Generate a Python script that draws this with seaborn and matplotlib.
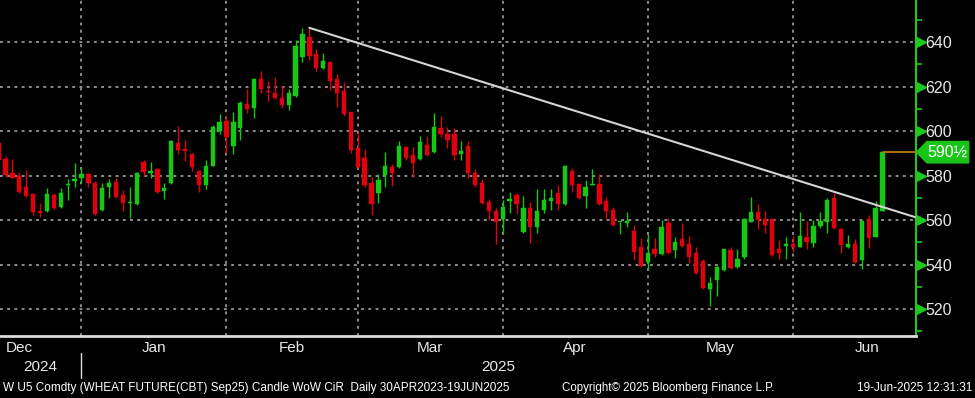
import matplotlib
matplotlib.use("Agg")
import matplotlib.pyplot as plt
import matplotlib.font_manager as fm
from matplotlib.lines import Line2D
from matplotlib.patches import Polygon
import numpy as np
import pandas as pd
import seaborn as sns

# daily candles, W U5 Comdty, mid-Dec 2024 .. 19-Jun-2025
opens = [594.5, 587.3, 581.3, 579.9, 574.7, 571.7, 564.0, 564.0, 571.2, 565.7,
         575.6, 577.7, 579.0, 580.7, 576.8, 564.5, 574.7, 577.2, 571.2, 567.5,
         567.2, 585.9, 581.3, 582.8, 573.0, 576.5, 594.8, 592.1, 589.5, 582.0,
         575.7, 584.4, 600.0, 604.5, 593.4, 601.5, 612.0, 610.5, 623.2, 618.1,
         616.9, 614.9, 611.6, 615.7, 633.1, 642.4, 634.5, 628.2, 631.2, 623.2,
         618.1, 608.4, 592.2, 588.0, 576.8, 572.3, 580.2, 584.0, 584.0, 593.0,
         589.2, 587.3, 593.7, 590.4, 601.2, 598.5, 598.9, 589.5, 593.3, 581.3,
         576.8, 568.2, 564.2, 560.3, 568.7, 571.2, 554.8, 565.5, 557.0, 564.5,
         568.5, 572.3, 567.0, 582.0, 576.2, 570.8, 575.7, 576.0, 568.5, 564.5,
         559.0, 558.8, 555.2, 548.0, 541.3, 546.8, 544.7, 558.5, 546.5, 551.4,
         549.1, 545.0, 541.7, 528.8, 533.0, 537.5, 546.5, 539.0, 543.5, 559.3,
         563.5, 560.4, 560.7, 547.2, 548.3, 549.1, 548.0, 552.5, 549.6, 557.4,
         559.3, 569.7, 555.8, 548.0, 549.1, 542.0, 560.4, 552.5, 564.2]
highs = [597.0, 588.8, 587.6, 581.7, 582.5, 572.0, 567.8, 574.5, 572.3, 574.5,
         578.4, 585.5, 583.2, 581.3, 577.5, 576.8, 578.3, 578.7, 573.5, 575.0,
         581.7, 587.0, 586.2, 583.2, 576.8, 596.0, 602.2, 596.0, 590.0, 582.5,
         587.0, 602.8, 607.5, 606.9, 608.4, 613.6, 618.7, 623.7, 627.1, 622.6,
         624.1, 620.2, 618.7, 640.9, 646.5, 646.5, 636.7, 635.3, 631.2, 625.6,
         622.2, 608.4, 599.7, 591.9, 579.5, 580.7, 590.4, 585.2, 595.5, 593.3,
         592.7, 597.8, 597.8, 608.0, 606.7, 601.7, 601.2, 595.5, 595.5, 582.9,
         578.3, 569.3, 565.2, 569.0, 572.7, 572.0, 570.9, 568.2, 574.0, 574.0,
         574.0, 575.7, 584.7, 583.5, 576.2, 578.0, 582.9, 580.7, 570.5, 566.0,
         559.3, 563.7, 557.8, 551.8, 553.7, 552.0, 560.0, 560.8, 552.5, 558.5,
         553.0, 548.0, 542.3, 534.5, 539.5, 547.2, 547.7, 547.2, 561.0, 570.5,
         567.0, 564.2, 560.7, 551.2, 552.5, 552.8, 563.8, 559.7, 560.0, 563.8,
         569.7, 572.0, 556.3, 553.5, 551.3, 560.0, 562.5, 568.5, 590.5]
lows = [585.0, 579.5, 578.7, 572.3, 570.5, 562.2, 561.5, 563.7, 564.8, 565.2,
        569.0, 574.7, 576.8, 574.7, 562.2, 564.2, 570.0, 570.0, 564.0, 561.0,
        566.8, 580.0, 578.7, 572.3, 569.4, 576.2, 589.5, 586.5, 582.2, 572.7,
        573.9, 584.3, 598.5, 590.3, 589.9, 596.0, 607.9, 605.7, 617.2, 613.6,
        614.2, 610.4, 609.4, 615.4, 631.2, 631.9, 627.0, 628.0, 618.4, 610.9,
        606.9, 590.0, 583.2, 574.9, 562.2, 567.8, 574.7, 575.3, 583.2, 587.0,
        579.2, 587.0, 588.8, 590.3, 597.2, 592.2, 587.0, 587.0, 578.7, 574.7,
        567.2, 560.0, 549.2, 554.3, 563.3, 562.7, 554.3, 549.8, 554.3, 563.3,
        564.5, 564.5, 566.8, 572.4, 569.3, 565.2, 575.7, 566.7, 560.5, 557.3,
        553.7, 557.0, 542.0, 539.0, 537.8, 543.5, 544.3, 545.0, 543.1, 548.0,
        540.8, 535.7, 528.8, 521.4, 525.9, 537.0, 537.8, 538.6, 542.7, 559.3,
        555.8, 554.0, 543.8, 542.5, 542.5, 545.8, 547.7, 547.0, 548.0, 556.3,
        554.3, 555.8, 545.3, 547.3, 540.8, 537.8, 547.5, 552.2, 564.2]
closes = [587.0, 580.2, 579.0, 572.7, 570.9, 563.8, 563.0, 571.7, 565.2, 572.3,
          576.2, 578.4, 580.7, 576.8, 562.7, 574.5, 576.8, 570.2, 567.8, 568.2,
          581.0, 581.7, 581.9, 572.7, 574.5, 595.5, 591.5, 591.2, 583.7, 575.7,
          584.3, 602.0, 603.9, 597.5, 603.9, 612.4, 609.7, 623.4, 618.7, 617.5,
          614.7, 611.9, 616.9, 638.4, 643.6, 633.7, 628.5, 631.6, 622.6, 616.9,
          607.6, 591.5, 584.0, 575.7, 567.2, 578.0, 584.3, 581.0, 593.3, 587.7,
          585.8, 594.9, 589.2, 601.7, 598.5, 596.2, 589.2, 591.0, 581.3, 575.7,
          567.5, 564.0, 559.2, 566.0, 569.4, 567.2, 565.5, 557.0, 564.2, 569.0,
          570.0, 567.2, 584.3, 575.7, 569.7, 575.0, 576.2, 567.2, 564.0, 557.7,
          559.3, 559.5, 545.8, 539.3, 545.0, 544.6, 557.0, 545.3, 550.3, 548.4,
          543.5, 536.0, 529.3, 531.8, 539.0, 546.8, 538.3, 542.7, 560.4, 563.8,
          560.0, 557.7, 544.2, 545.0, 549.1, 548.0, 552.8, 550.3, 557.4, 559.7,
          569.0, 556.3, 548.8, 549.1, 541.3, 559.5, 552.0, 565.5, 590.5]

# first trading day of each month (bar index)
month_starts = [12, 33, 52, 73, 94, 115]
month_names = ["Dec", "Jan", "Feb", "Mar", "Apr", "May", "Jun"]
year_names = ["2024", "2025"]
price_ticks = [640, 620, 600, 580, 560, 540, 520]
last_label = "590\u00bd"
last_price = 590.5

# resistance line drawn from the Feb high
trend_x = [45, 132.85]
trend_y = [646.4, 561.2]

title = "W U5 Comdty (WHEAT FUTURE(CBT) Sep25) Candle WoW CiR  Daily 30APR2023-19JUN2025"
copyright = "Copyright\u00a9 2025 Bloomberg Finance L.P."
stamp = "19-Jun-2025 12:31:31"

UP = "#14c814"
DOWN = "#e00010"
AXIS_GREEN = "#1ec81e"
TEXT = "#e8e8e8"
GRID = "#969696"

df = pd.DataFrame({"open": opens, "high": highs, "low": lows, "close": closes})
df["idx"] = np.arange(len(df))
df["up"] = df["close"] >= df["open"]
df["body_lo"] = df[["open", "close"]].min(axis=1)
df["body_h"] = (df["close"] - df["open"]).abs().clip(lower=0.6)
df["col"] = np.where(df["up"], UP, DOWN)

sns.set_theme(style="dark", rc={
    "axes.facecolor": "black",
    "figure.facecolor": "black",
    "axes.edgecolor": "black",
})
narrow = "Liberation Sans Narrow"
have = {f.name for f in fm.fontManager.ttflist}
plt.rcParams["font.family"] = [narrow if narrow in have else "Liberation Sans", "DejaVu Sans"]

fig = plt.figure(figsize=(9.75, 3.98), dpi=100)
ax = fig.add_axes([0, 62 / 398, 916 / 975, 336 / 398])

xmin, xmax = 0.2, 132.85
ymin, ymax = 507.9, 658.9
ax.set_xlim(xmin, xmax)
ax.set_ylim(ymin, ymax)

# dotted grid
dots = (0, (1.6, 2.4))
for p in price_ticks:
    ax.axhline(p, color=GRID, lw=1.3, ls=dots, zorder=0)
for m in month_starts:
    ax.axvline(m, color=GRID, lw=1.3, ls=dots, zorder=0)

# candles
ax.vlines(df["idx"], df["low"], df["high"], colors=df["col"], lw=1.0, zorder=2)
ax.bar(df["idx"], df["body_h"], bottom=df["body_lo"], width=0.62,
       color=df["col"], edgecolor=df["col"], linewidth=0.3, zorder=3)

# trend line and last price line
sns.lineplot(x=trend_x, y=trend_y, ax=ax, color="#d4d4d4", lw=1.5, zorder=4)
ax.plot([df["idx"].iloc[-1], xmax], [last_price, last_price], color="#c07810",
        lw=1.3, zorder=4, clip_on=False)

# spines
for s in ["top", "left"]:
    ax.spines[s].set_visible(False)
ax.spines["bottom"].set_color("#dcdcdc")
ax.spines["bottom"].set_linewidth(2.0)
ax.spines["right"].set_color(AXIS_GREEN)
ax.spines["right"].set_linewidth(1.5)

# x axis: month ticks, labels placed by hand below
ax.set_xticks(month_starts)
ax.set_xticklabels([])
ax.tick_params(axis="x", colors="#dcdcdc", direction="inout", length=9, width=1.2)

# y axis on the right
ax.yaxis.tick_right()
ax.set_yticks(price_ticks)
ax.set_yticklabels([str(p) for p in price_ticks])
ax.set_yticks(np.arange(510, 660, 20), minor=True)
ax.tick_params(axis="y", which="major", length=0, pad=7, labelsize=11.5, labelcolor=TEXT)
ax.tick_params(axis="y", which="minor", length=4, width=1.2, color=AXIS_GREEN, direction="out")
ytr = ax.get_yaxis_transform()
ax.plot([1.0055] * len(price_ticks), price_ticks, ls="none", marker=">", ms=6.5,
        color=AXIS_GREEN, transform=ytr, clip_on=False, zorder=5)

# last price tag
tag = Polygon([[1.0005, last_price], [1.012, last_price + 4.8], [1.0575, last_price + 4.8],
               [1.0575, last_price - 4.8], [1.012, last_price - 4.8]],
              closed=True, transform=ytr, color="#19c419", clip_on=False, zorder=6)
ax.add_patch(tag)
ax.text(1.0125, last_price, last_label, transform=ytr, color="white", fontsize=11.5,
        va="center", ha="left", zorder=7, clip_on=False)

# month and year labels
xtr = ax.get_xaxis_transform()
label_pos = [3.0] + [(a + b) / 2 for a, b in zip(month_starts[:-1], month_starts[1:])] + [125.8]
for name, pos in zip(month_names, label_pos):
    ax.text(pos, -0.036, name, transform=xtr, color=TEXT, fontsize=11,
            ha="center", va="center", clip_on=False)
ax.text(6.0, -0.093, year_names[0], transform=xtr, color=TEXT, fontsize=11,
        ha="center", va="center", clip_on=False)
ax.text((month_starts[0] + xmax) / 2, -0.093, year_names[1], transform=xtr, color=TEXT,
        fontsize=11, ha="center", va="center", clip_on=False)
ax.add_line(Line2D([month_starts[0], month_starts[0]], [-0.05, -0.125], transform=xtr,
                   color="#dcdcdc", lw=1.0, clip_on=False))

# footer
fy = 1 - 388 / 398
fig.text(3 / 975, fy, title, color="white", fontsize=8.5, ha="left", va="center")
fig.text(562 / 975, fy, copyright, color="white", fontsize=8.3, ha="left", va="center")
fig.text(972 / 975, fy, stamp, color="white", fontsize=8.5, ha="right", va="center")

fig.savefig("out.png", dpi=100, facecolor="black")
